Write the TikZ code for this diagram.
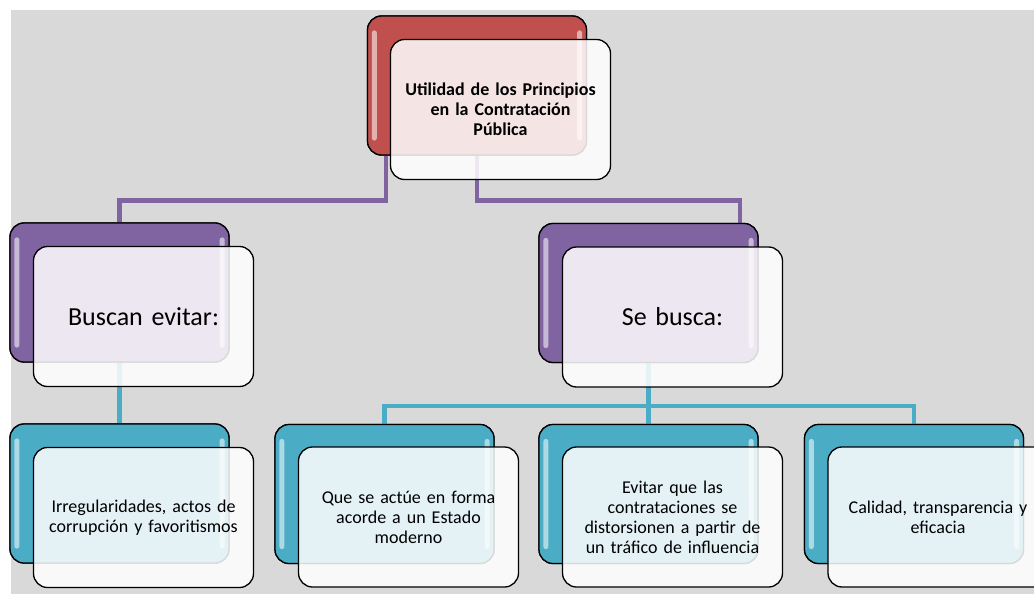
\documentclass[tikz,border=0pt]{standalone}
\usepackage{fontspec}
\setmainfont{Carlito}
\definecolor{bggray}{HTML}{D9D9D9}
\definecolor{ofred}{HTML}{C0504D}
\definecolor{ofpurple}{HTML}{8064A2}
\definecolor{ofcyan}{HTML}{4BACC6}
\begin{document}
\begin{tikzpicture}[x=1pt,y=-1pt,
  back/.style={draw=black, line width=1.3pt, rounded corners=14pt,
    minimum width=219pt, minimum height=139pt, inner sep=0pt},
  front/.style={draw=black, line width=1.3pt, rounded corners=14pt,
    minimum width=220pt, minimum height=140pt, fill=white, fill opacity=0.85,
    text opacity=1, align=center, text width=212pt, inner sep=0pt,
    font=\fontsize{18}{20}\selectfont},
  bigtext/.style={font=\fontsize{26}{30}\selectfont},
  toptext/.style={font=\fontsize{18}{20}\selectfont\bfseries},
  pline/.style={draw=ofpurple, line width=4.5pt},
  cline/.style={draw=ofcyan, line width=4.5pt},
  gloss/.style={fill=white, opacity=0.55, rounded corners=2.5pt}]
\useasboundingbox (0,0) rectangle (1034,594);
\clip (0,0) rectangle (1034,594);
\fill[bggray] (11,10) rectangle (1034,594);

% back boxes (positions)
\path
  (477,85.5) node[back] (topb) {}
  (119.5,292.5) node[back] (b1) {}
  (648.5,293) node[back] (b2) {}
  (119.5,493.5) node[back] (c1) {}
  (384.5,494) node[back] (c2) {}
  (648.5,494) node[back] (c3) {}
  (914,494) node[back] (c4) {};

% connectors
\draw[pline] ([xshift=-91pt]topb.south) -- ++(0,45) -| (b1.north);
\draw[pline] (topb.south) -- ++(0,45) -| ([xshift=91.5pt]b2.north);
\draw[cline] (b1.south) -- (c1.north);
\draw[cline] (b2.south) -- (c3.north);
\draw[cline] (c2.north) -- ++(0,-18) -| (c4.north);

% back boxes drawn
\node[back, fill=ofred] at (topb) {};
\node[back, fill=ofpurple] at (b1) {};
\node[back, fill=ofpurple] at (b2) {};
\foreach \n in {c1,c2,c3,c4} {\node[back, fill=ofcyan] at (\n) {};}

% gloss highlights
\foreach \n in {topb,b1,b2,c1,c2,c3,c4} {
  \fill[gloss] ([xshift=5pt,yshift=-15pt]\n.north west) rectangle ([xshift=10pt,yshift=15pt]\n.south west);
  \fill[gloss] ([xshift=-10pt,yshift=-15pt]\n.north east) rectangle ([xshift=-5pt,yshift=15pt]\n.south east);
}

% front boxes
\node[front, toptext] (topf) at ([xshift=23.5pt,yshift=-24pt]topb.center)
  {Utilidad de los Principios\\en la Contratación\\Pública};
\node[front, bigtext] (b1f) at ([xshift=24pt,yshift=-24pt]b1.center) {Buscan evitar:};
\node[front, bigtext] (b2f) at ([xshift=24pt,yshift=-24pt]b2.center) {Se busca:};
\node[front] (c1f) at ([xshift=24pt,yshift=-24pt]c1.center)
  {Irregularidades, actos de\\corrupción y favoritismos};
\node[front] (c2f) at ([xshift=24pt,yshift=-23pt]c2.center)
  {Que se actúe en forma\\acorde a un Estado\\moderno};
\node[front] (c3f) at ([xshift=24pt,yshift=-23pt]c3.center)
  {Evitar que las\\contrataciones se\\distorsionen a partir de\\un tráfico de influencia};
\node[front] (c4f) at ([xshift=24pt,yshift=-23pt]c4.center)
  {Calidad, transparencia y\\eficacia};
\end{tikzpicture}
\end{document}
